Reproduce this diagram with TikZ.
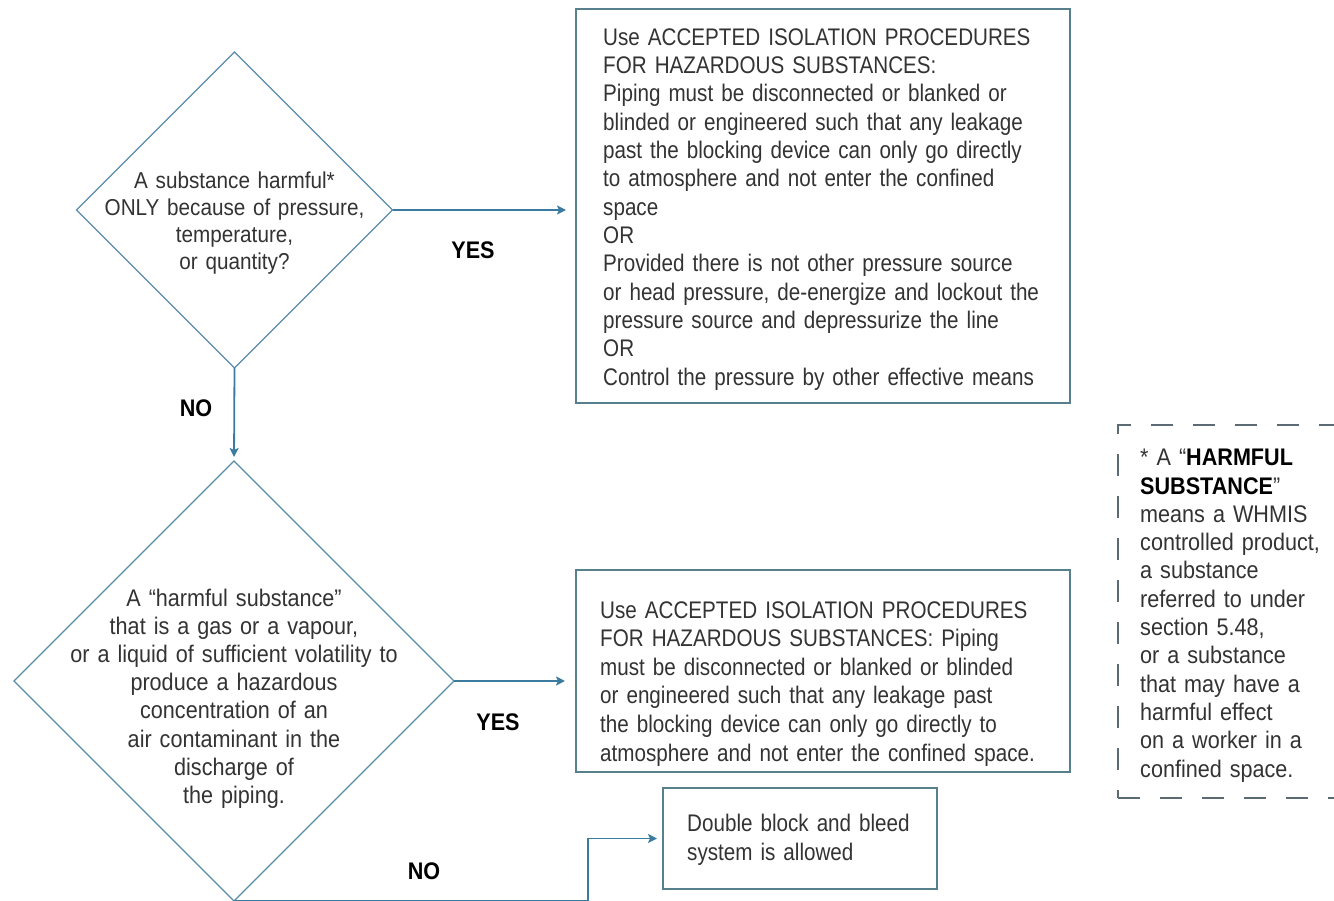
\documentclass[tikz,border=0pt]{standalone}
\usepackage{fontspec}
\setmainfont{Liberation Sans}[FakeStretch=0.9]
\newfontfamily\boxfont{Liberation Sans}[FakeStretch=0.86]
\usetikzlibrary{shapes.geometric,arrows.meta}
\definecolor{connc}{HTML}{3B7BA0}
\definecolor{diac}{HTML}{5A8DAA}
\definecolor{boxc}{HTML}{56808C}
\definecolor{txtc}{HTML}{333333}
\definecolor{dashc}{HTML}{5C6B73}
\begin{document}
\begin{tikzpicture}[x=1pt,y=-1pt,
  dnode/.style={diamond, draw=diac, line width=1.2pt, inner sep=0pt, outer sep=0pt, aspect=1},
  boxnode/.style={rectangle, draw=boxc, line width=1.6pt, inner sep=0pt, outer sep=0pt, anchor=north west},
  btext/.style={anchor=north west, inner sep=0pt, text=txtc, align=left},
  dtext/.style={anchor=north, inner sep=0pt, text=txtc, text width=430pt, align=center},
  lbl/.style={font=\fontsize{24}{28}\selectfont\bfseries, text=black, inner sep=0pt},
  arrowline/.style={draw=connc, line width=1.8pt, -{Stealth[length=9pt,width=9pt,inset=2pt]}},
  notebox/.style={rectangle, draw=dashc, line width=1.4pt, dash pattern=on 22pt off 20pt, inner sep=0pt, outer sep=0pt, anchor=north west},
]
\clip (0,0) rectangle (1334,901);
\fill[white] (0,0) rectangle (1334,901);

% decision diamonds
\node[dnode, minimum width=316pt, minimum height=316pt] (d1) at (234.5,210) {};
\node[dtext, font=\fontsize{23}{27}\selectfont] (t1) at (234.5,171.2)
  {A substance harmful*\\ONLY because of pressure,\\temperature,\\or quantity?};

\node[dnode, minimum width=440pt, minimum height=440pt] (d2) at (234,681) {};
\node[dtext, font=\fontsize{24}{28.2}\selectfont] (t2) at (234,588.5)
  {A “harmful substance”\\that is a gas or a vapour,\\or a liquid of sufficient volatility to\\produce a hazardous\\concentration of an\\air contaminant in the\\discharge of\\the piping.};

% boxes
\node[boxnode, minimum width=494pt, minimum height=394pt] (b1) at (576,9) {};
\node[btext, text width=460pt, font=\boxfont\fontsize{24}{28.33}\selectfont] (t3) at (603,28.2)
  {Use ACCEPTED ISOLATION PROCEDURES\\
   FOR HAZARDOUS SUBSTANCES:\\
   Piping must be disconnected or blanked or\\
   blinded or engineered such that any leakage\\
   past the blocking device can only go directly\\
   to atmosphere and not enter the confined\\
   space\\
   OR\\
   Provided there is not other pressure source\\
   or head pressure, de-energize and lockout the\\
   pressure source and depressurize the line\\
   OR\\
   Control the pressure by other effective means};

\node[boxnode, minimum width=494pt, minimum height=202pt] (b2) at (576,570) {};
\node[btext, text width=465pt, font=\boxfont\fontsize{24}{28.6}\selectfont] (t4) at (600,601.2)
  {Use ACCEPTED ISOLATION PROCEDURES\\
   FOR HAZARDOUS SUBSTANCES: Piping\\
   must be disconnected or blanked or blinded\\
   or engineered such that any leakage past\\
   the blocking device can only go directly to\\
   atmosphere and not enter the confined space.};

\node[boxnode, minimum width=274pt, minimum height=101pt] (b3) at (663,788) {};
\node[btext, text width=245pt, font=\boxfont\fontsize{24}{29}\selectfont] (t5) at (687,813.5)
  {Double block and bleed\\system is allowed};

% footnote box
\node[notebox, minimum width=240pt, minimum height=373pt] (nb) at (1118,425) {};
\node[btext, text width=200pt, font=\fontsize{24}{28.3}\selectfont] (t6) at (1140,449)
  {* A “{\color{black}\bfseries HARMFUL}\\
   {\color{black}\bfseries SUBSTANCE}”\\
   means a WHMIS\\
   controlled product,\\
   a substance\\
   referred to under\\
   section 5.48,\\
   or a substance\\
   that may have a\\
   harmful effect\\
   on a worker in a\\
   confined space.};

% labels
\node[lbl] (no1) at (196,408) {NO};
\node[lbl] (yes1) at (473,250) {YES};
\node[lbl] (yes2) at (498,722) {YES};
\node[lbl] (no2) at (424,871) {NO};

% connectors
\draw[arrowline, shorten >=4pt] (d1.south) -- (d2.north);
\draw[arrowline, shorten >=10pt] (d1.east) -- (d1.east -| b1.west);
\draw[arrowline, shorten >=11pt] (d2.east) -- (d2.east -| b2.west);
\coordinate (k) at (588,901);
\draw[arrowline, shorten >=6pt] (d2.south) -- (k) |- (b3.west);
\end{tikzpicture}
\end{document}
